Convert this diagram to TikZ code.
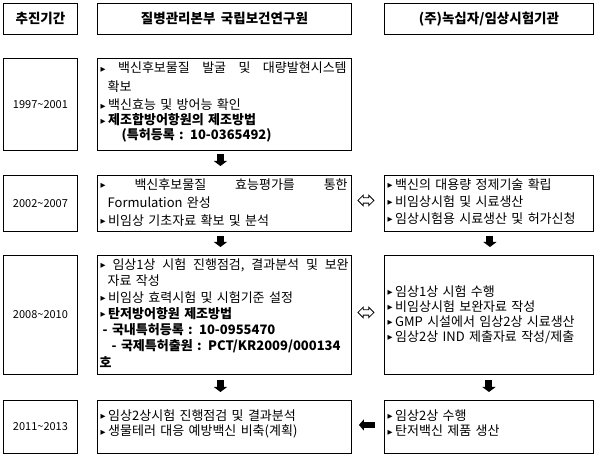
\documentclass[tikz,border=0pt]{standalone}
\usepackage{fontspec}
\setmainfont{Noto Sans CJK KR}
\newfontfamily\dejavu{DejaVu Sans}
\usetikzlibrary{arrows.meta,calc,shapes.arrows}
\newcommand\bu{\raisebox{1.6pt}{\dejavu\fontsize{6.5}{6.5}\selectfont ▶}}
\newcommand\fs[2]{\fontsize{#1}{#2}\selectfont\spaceskip=5.5pt plus 4pt minus 1pt\relax}
\newcommand\jline[2]{\leavevmode\hbox to #1{#2}}
\tikzset{
  box/.style={draw, line width=0.9pt, inner sep=0, anchor=north west, align=center,
              font=\fs{11}{14}},
  hbox/.style={box, font=\bfseries\fs{13.5}{15}},
  txt/.style={anchor=base west, inner sep=0, align=left},
  blk/.style={line width=7pt, -{Triangle[width=13pt,length=5pt]}},
  blkl/.style={line width=5.5pt, -{Triangle[width=11pt,length=5pt]}},
  dbl/.style={double arrow, draw, line width=0.8pt, inner xsep=0pt, inner ysep=2.3pt,
              minimum height=16pt, double arrow head extend=2.6pt}
}
\begin{document}
\begin{tikzpicture}[x=1pt,y=-1pt]
\useasboundingbox (0,0) rectangle (598,457);
\fill[white] (0,0) rectangle (598,457);
% headers
\node[hbox, minimum width=74pt, minimum height=31pt] (hL) at (3,3) {추진기간};
\node[hbox, minimum width=254pt, minimum height=31pt] (hM) at (97,3) {질병관리본부 국립보건연구원};
\node[hbox, minimum width=209pt, minimum height=31pt] (hR) at (384,3) {(주)녹십자/임상시험기관};
% row 1
\node[box, minimum width=74pt, minimum height=92pt] (r1L) at (3,58) {1997\textasciitilde 2001};
\node[box, minimum width=254pt, minimum height=92pt] (r1M) at (97,58) {};
% row 2
\node[box, minimum width=74pt, minimum height=56pt] (r2L) at (3,175) {2002\textasciitilde 2007};
\node[box, minimum width=254pt, minimum height=56pt] (r2M) at (97,175) {};
\node[box, minimum width=209pt, minimum height=56pt] (r2R) at (384,175) {};
% row 3
\node[box, minimum width=74pt, minimum height=119pt] (r3L) at (3,255) {2008\textasciitilde 2010};
\node[box, minimum width=254pt, minimum height=119pt] (r3M) at (97,255) {};
\node[box, minimum width=209pt, minimum height=119pt] (r3R) at (384,255) {};
% row 4
\node[box, minimum width=74pt, minimum height=53pt] (r4L) at (3,400) {2011\textasciitilde 2013};
\node[box, minimum width=254pt, minimum height=53pt] (r4M) at (97,400) {};
\node[box, minimum width=209pt, minimum height=53pt] (r4R) at (384,400) {};

% texts
\node[txt, text width=250pt, font=\fs{13}{18.5}] (t1M) at ($(r1M.north west)+(3.5,15)$)
 {\jline{246pt}{\bu\hfill 백신후보물질\hfill 발굴\hfill 및\hfill 대량발현시스템}\\
  \hspace*{7pt}확보\\
  \bu\hspace{2.5pt}백신효능 및 방어능 확인\\[-3.5pt]
  \textbf{\bu\hspace{2.5pt}제조합방어항원의 제조방법}\\[-4pt]
  \hspace*{21pt}\textbf{(특허등록 : 10-0365492)}};
\node[txt, text width=250pt, font=\fs{13}{18}] (t2M) at ($(r2M.north west)+(3.5,14.5)$)
 {\jline{247pt}{\bu\hfill 백신후보물질\hfill 효능평가를\hfill 통한}\\
  \hspace*{7pt}Formulation 완성\\
  \bu\hspace{2.5pt}비임상 기초자료 확보 및 분석};
\node[txt, text width=205pt, font=\fs{13}{17}] (t2R) at ($(r2R.north west)+(3.5,14.5)$)
 {\bu\hspace{2.5pt}백신의 대용량 정제기술 확립\\
  \bu\hspace{2.5pt}비임상시험 및 시료생산\\
  \bu\hspace{2.5pt}임상시험용 시료생산 및 허가신청};
\node[txt, text width=250pt, font=\fs{13}{16.3}] (t3M) at ($(r3M.north west)+(3.5,14.5)$)
 {\jline{248pt}{\bu\hfill 임상1상\hfill 시험\hfill 진행점검,\hfill 결과분석\hfill 및\hfill 보완}\\
  \hspace*{7pt}자료 작성\\
  \bu\hspace{2.5pt}비임상 효력시험 및 시험기준 설정\\
  \textbf{\bu\hspace{2.5pt}탄저방어항원 제조방법}\\
  \hspace*{2pt}\textbf{- 국내특허등록 : 10-0955470}\\
  \hspace*{11pt}\textbf{- 국제특허출원 : PCT/KR2009/000134}\\
  \hspace*{-1pt}\textbf{호}};
\node[txt, text width=205pt, font=\fs{13}{15}] (t3R) at ($(r3R.north west)+(3.5,41.5)$)
 {\bu\hspace{2.5pt}임상1상 시험 수행\\
  \bu\hspace{2.5pt}비임상시험 보완자료 작성\\
  \bu\hspace{2.5pt}GMP 시설에서 임상2상 시료생산\\
  \bu\hspace{2.5pt}임상2상 IND 제출자료 작성/제출};
\node[txt, text width=250pt, font=\fs{13}{15.5}] (t4M) at ($(r4M.north west)+(3.5,20.5)$)
 {\bu\hspace{2.5pt}임상2상시험 진행점검 및 결과분석\\
  \bu\hspace{2.5pt}생물테러 대응 예방백신 비축(계획)};
\node[txt, text width=205pt, font=\fs{13}{15.5}] (t4R) at ($(r4R.north west)+(3.5,20.5)$)
 {\bu\hspace{2.5pt}임상2상 수행\\
  \bu\hspace{2.5pt}탄저백신 제품 생산};

% down arrows
\draw[blk] ($(r1M.south)+(-4,3)$) -- ($(r2M.north)+(-4,-9)$);
\draw[blk] ($(r2M.south)+(-4,4)$) -- ($(r3M.north)+(-4,-8)$);
\draw[blk] ($(r2R.south)+(1,4)$) -- ($(r3R.north)+(1,-8)$);
\draw[blk] ($(r3M.south)+(-4,5)$) -- ($(r4M.north)+(-4,-8)$);
\draw[blk] ($(r3R.south)+(0,5)$) -- ($(r4R.north)+(0,-8)$);
% left arrow
\draw[blkl] ($(r4R.west)+(-9,-2)$) -- ($(r4M.east)+(7,-2)$);
% double arrows
\node[dbl] (d2) at ($(r2M.east)!0.5!(r2R.west)+(-2,-3)$) {};
\node[dbl] (d3) at ($(r3M.east)!0.5!(r3R.west)+(-2,-2.5)$) {};
\end{tikzpicture}
\end{document}
